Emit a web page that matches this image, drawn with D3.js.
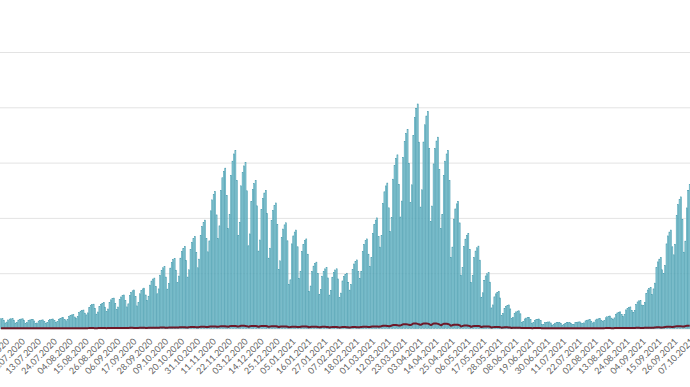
<!DOCTYPE html>
<head>
  <meta charset="utf-8">
  <style>
    body { margin: 0; background: #fff; }
    svg .grid line { stroke: #e3e3e3; stroke-width: 1px; }
    svg .grid .domain { display: none; }
    svg .x-axis .domain { display: none; }
    svg .x-axis text { font: 9px Lato, sans-serif; fill: #666; }
    svg .bar { fill: #a3dbe5; stroke: #3891a5; stroke-width: 0.5px; }
    svg .deaths { fill: none; stroke: #6e1828; stroke-width: 2px; }
  </style>
</head>

<body>
<script src="https://d3js.org/d3.v7.min.js"></script>

<script>
  // daily new cases, 19.06.2020 .. 08.10.2021 (one row = Mon..Sun)
  var cases = [
    880, 900, 750,
    500, 580, 770, 850, 880, 900, 750,
    490, 560, 760, 830, 860, 880, 730,
    460, 520, 710, 770, 800, 820, 680,
    440, 500, 670, 730, 760, 780, 650,
    480, 550, 740, 810, 840, 860, 710,
    550, 630, 840, 920, 960, 980, 810,
    700, 800, 1080, 1180, 1230, 1250, 1040,
    940, 1070, 1440, 1570, 1640, 1670, 1390,
    1230, 1410, 1890, 2070, 2160, 2200, 1830,
    1300, 1490, 2000, 2190, 2280, 2330, 1930,
    1540, 1760, 2370, 2590, 2700, 2750, 2280,
    1700, 1940, 2610, 2850, 2970, 3030, 2510,
    1950, 2230, 2990, 3270, 3410, 3480, 2890,
    2040, 2340, 3140, 3430, 3580, 3650, 3030,
    2550, 2920, 3920, 4290, 4470, 4560, 3780,
    3140, 3580, 4820, 5260, 5490, 5600, 4650,
    3560, 4060, 5460, 5970, 6220, 6350, 5270,
    4140, 4740, 6360, 6960, 7250, 7400, 6140,
    4650, 5310, 7140, 7800, 8130, 8300, 6890,
    5490, 6270, 8430, 9210, 9600, 9800, 8130,
    6930, 7920, 10640, 11630, 12120, 12370, 10270,
    8120, 9280, 12470, 13630, 14210, 14500, 12040,
    9020, 10300, 13850, 15130, 15780, 16100, 13360,
    8400, 9600, 12900, 14100, 14700, 15000, 12450,
    7480, 8550, 11490, 12560, 13090, 13360, 11090,
    7000, 8000, 10750, 11750, 12250, 12500, 10380,
    6360, 7260, 9760, 10670, 11120, 11350, 9420,
    5350, 6120, 8220, 8990, 9370, 9560, 7930,
    4000, 4400, 7650, 8370, 8720, 8900, 7390,
    4540, 5180, 6970, 7610, 7940, 8100, 6720,
    3360, 3840, 5160, 5640, 5880, 6000, 4980,
    3080, 3520, 4730, 5170, 5390, 5500, 4570,
    3020, 3460, 4640, 5080, 5290, 5400, 4480,
    2800, 3200, 4300, 4700, 4900, 5000, 4150,
    3470, 3970, 5330, 5830, 6080, 6200, 5150,
    4540, 5180, 6970, 7610, 7940, 8100, 6720,
    5600, 6400, 8600, 9400, 9800, 10000, 8300,
    7360, 8420, 11310, 12360, 12890, 13150, 10910,
    8790, 10050, 13500, 14760, 15390, 15700, 13030,
    10080, 11520, 15480, 16920, 17640, 18000, 14940,
    11370, 12990, 17460, 19080, 19890, 20300, 16850,
    10980, 12540, 16860, 18420, 19210, 19600, 16270,
    9690, 11070, 14880, 16260, 16950, 17300, 14360,
    9020, 10300, 13850, 15130, 15780, 16100, 13360,
    6440, 7360, 9890, 10810, 11270, 11500, 9550,
    4820, 5500, 7400, 8080, 8430, 8600, 7140,
    4170, 4770, 6410, 7000, 7300, 7450, 6180,
    2830, 3230, 4340, 4750, 4950, 5050, 4190,
    1860, 2130, 2860, 3130, 3260, 3330, 2760,
    1190, 1360, 1830, 2000, 2090, 2130, 1770,
    900, 1020, 1380, 1500, 1570, 1600, 1330,
    560, 640, 860, 940, 980, 1000, 830,
    480, 550, 740, 810, 840, 860, 710,
    340, 380, 520, 560, 590, 600, 500,
    310, 360, 480, 530, 550, 560, 460,
    310, 350, 470, 520, 540, 550, 460,
    340, 380, 520, 560, 590, 600, 500,
    450, 510, 690, 750, 780, 800, 660,
    500, 580, 770, 850, 880, 900, 750,
    630, 720, 970, 1060, 1110, 1130, 940,
    840, 960, 1290, 1410, 1470, 1500, 1250,
    1090, 1250, 1680, 1830, 1910, 1950, 1620,
    1430, 1630, 2190, 2400, 2500, 2550, 2120,
    2070, 2370, 3180, 3480, 3630, 3700, 3070,
    3580, 4100, 5500, 6020, 6270, 6400, 5310,
    4980, 5700, 7650, 8370, 8720, 8900, 7390,
    6660, 7620, 10230, 11190, 11660, 11900, 9880,
    6900, 7900, 10900, 12500, 13000
  ];

  // daily deaths, same days
  var deaths = [
    21, 20, 18,
    15, 18, 21, 21, 21, 20, 18,
    15, 18, 21, 21, 21, 20, 18,
    14, 16, 19, 19, 19, 18, 16,
    14, 16, 19, 19, 19, 18, 16,
    15, 18, 21, 21, 21, 20, 18,
    17, 20, 23, 23, 23, 22, 20,
    18, 22, 25, 25, 25, 24, 22,
    21, 25, 29, 29, 29, 28, 25,
    26, 32, 37, 37, 37, 35, 32,
    29, 34, 40, 40, 40, 38, 34,
    32, 38, 44, 44, 44, 42, 38,
    38, 45, 53, 53, 53, 50, 45,
    41, 50, 58, 58, 58, 55, 50,
    45, 54, 63, 63, 63, 60, 54,
    53, 63, 74, 74, 74, 70, 63,
    60, 72, 84, 84, 84, 80, 72,
    71, 86, 100, 100, 100, 95, 86,
    83, 99, 116, 116, 116, 110, 99,
    98, 117, 137, 137, 137, 130, 117,
    113, 135, 158, 158, 158, 150, 135,
    135, 162, 189, 189, 189, 180, 162,
    150, 180, 210, 210, 210, 200, 180,
    165, 198, 231, 231, 231, 220, 198,
    173, 207, 242, 242, 242, 230, 207,
    165, 198, 231, 231, 231, 220, 198,
    165, 198, 231, 231, 231, 220, 198,
    150, 180, 210, 210, 210, 200, 180,
    135, 162, 189, 189, 189, 180, 162,
    113, 135, 158, 158, 158, 150, 135,
    128, 153, 179, 179, 179, 170, 153,
    120, 144, 168, 168, 168, 160, 144,
    105, 126, 147, 147, 147, 140, 126,
    98, 117, 137, 137, 137, 130, 117,
    90, 108, 126, 126, 126, 120, 108,
    90, 108, 126, 126, 126, 120, 108,
    113, 135, 158, 158, 158, 150, 135,
    135, 162, 189, 189, 189, 180, 162,
    173, 207, 242, 242, 242, 230, 207,
    225, 270, 315, 315, 315, 300, 270,
    278, 333, 389, 389, 389, 370, 333,
    315, 378, 441, 441, 441, 420, 378,
    330, 396, 462, 462, 462, 440, 396,
    315, 378, 441, 441, 441, 420, 378,
    300, 360, 420, 420, 420, 400, 360,
    248, 297, 347, 347, 347, 330, 297,
    188, 225, 263, 263, 263, 250, 225,
    165, 198, 231, 231, 231, 220, 198,
    135, 162, 189, 189, 189, 180, 162,
    98, 117, 137, 137, 137, 130, 117,
    75, 90, 105, 105, 105, 100, 90,
    53, 63, 74, 74, 74, 70, 63,
    38, 45, 53, 53, 53, 50, 45,
    30, 36, 42, 42, 42, 40, 36,
    23, 27, 32, 32, 32, 30, 27,
    19, 23, 26, 26, 26, 25, 23,
    19, 23, 26, 26, 26, 25, 23,
    19, 23, 26, 26, 26, 25, 23,
    19, 23, 26, 26, 26, 25, 23,
    23, 27, 32, 32, 32, 30, 27,
    26, 32, 37, 37, 37, 35, 32,
    30, 36, 42, 42, 42, 40, 36,
    34, 41, 47, 47, 47, 45, 41,
    41, 50, 58, 58, 58, 55, 50,
    53, 63, 74, 74, 74, 70, 63,
    75, 90, 105, 105, 105, 100, 90,
    113, 135, 158, 158, 158, 150, 135,
    150, 180, 210, 210, 210, 200, 180,
    180, 216, 252, 252, 252
  ];

  var firstDay = new Date(2020, 5, 19);   // 19.06.2020
  var labelStep = 11;                     // a label every 11 days
  var firstLabel = 2;                     // 21.06.2020
  var yTicks = [0, 5000, 10000, 15000, 20000, 25000];

  var width = 690, height = 387;
  var plot = { left: 0.5, right: 690.2, top: 52, bottom: 328.5 };

  var days = cases.map(function (v, i) { return d3.timeDay.offset(firstDay, i); });
  var fmt = d3.timeFormat("%d.%m.%Y");

  var svg = d3.select("body").append("svg")
      .attr("width", width)
      .attr("height", height);

  var x = d3.scaleBand()
      .domain(days)
      .range([plot.left, plot.right])
      .paddingInner(0.3);

  var y = d3.scaleLinear()
      .domain([0, 25000])
      .range([plot.bottom, plot.top]);

  // horizontal grid lines
  svg.append("g")
      .classed("grid", true)
      .call(d3.axisLeft(y).tickValues(yTicks).tickSize(-width).tickFormat(""));

  // bars
  svg.append("g").selectAll("rect")
    .data(cases)
    .join("rect")
      .classed("bar", true)
      .attr("x", function (d, i) { return x(days[i]); })
      .attr("width", x.bandwidth())
      .attr("y", function (d) { return y(d); })
      .attr("height", function (d) { return y(0) - y(d); });

  // deaths line
  var line = d3.line()
      .x(function (d, i) { return x(days[i]) + x.bandwidth() / 2; })
      .y(function (d) { return y(d); })
      .curve(d3.curveMonotoneX);

  svg.append("path")
      .classed("deaths", true)
      .attr("d", line(deaths));

  // x axis, rotated date labels
  var labelDays = days.filter(function (d, i) { return i >= firstLabel && (i - firstLabel) % labelStep === 0; });

  svg.append("g")
      .classed("x-axis", true)
      .attr("transform", "translate(0," + (plot.bottom + 9) + ")")
      .call(d3.axisBottom(x).tickValues(labelDays).tickSize(0).tickFormat(fmt))
    .selectAll("text")
      .style("text-anchor", "end")
      .attr("dx", "0.1em")
      .attr("dy", "0.5em")
      .attr("transform", "rotate(-45)");
</script>
</body>
</html>
